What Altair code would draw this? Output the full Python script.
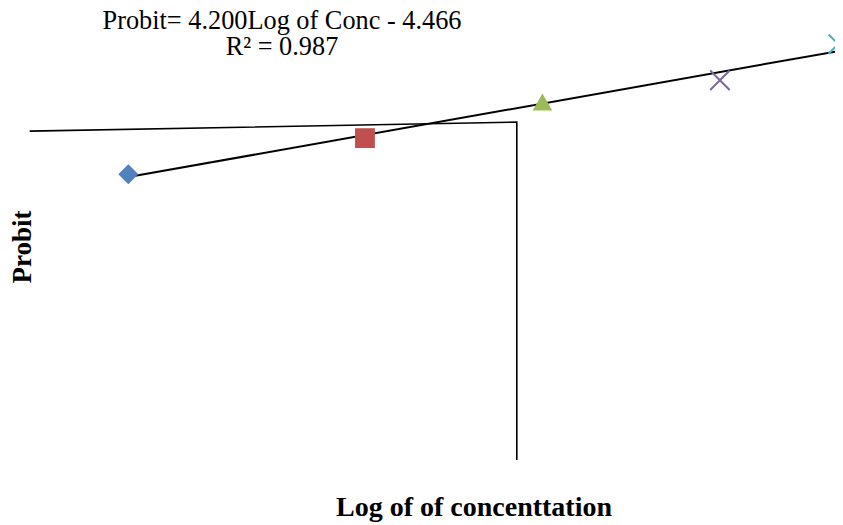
import altair as alt
import pandas as pd

# ---- data ----
log_conc = [1.70, 1.94, 2.12, 2.30, 2.42]
probit = [2.72, 3.60, 4.48, 5.01, 5.89]
marker = ["diamond", "square", "triangle", "x", "star"]

# the odd drawn frame lines (data coordinates)
frame_x = [1.600, 2.094, 2.094]
frame_y = [3.77, 3.99, -4.24]

equation_text = "Probit= 4.200Log of Conc - 4.466\nR\u00b2 = 0.987"
x_title = "Log of of concenttation"
y_title = "Probit"

# ---- styling ----
marker_colors = ["#4F81BD", "#C0504D", "#9BBB59", "#8064A2", "#4BACC6"]
x_path = "M-1,-1L1,1M-1,1L1,-1"
star_path = "M-1,-1L1,1M-1,1L1,-1M0,-1L0,1"
marker_shapes = ["diamond", "square", "triangle-up", x_path, star_path]
marker_sizes = [400, 370, 430, 380, 380]
FONT = "Liberation Serif"

pts = pd.DataFrame({"log_conc": log_conc, "probit": probit, "marker": marker})
frame = pd.DataFrame({"log_conc": frame_x, "probit": frame_y, "order": list(range(len(frame_x)))})

xs = alt.Scale(domain=[1.578, 2.4167], nice=False, zero=False)
ys = alt.Scale(domain=[-5.824, 6.77], nice=False, zero=False)
X = alt.X("log_conc:Q", scale=xs, axis=None)
Y = alt.Y("probit:Q", scale=ys, axis=None)

shape_enc = alt.Shape("marker:N", scale=alt.Scale(domain=marker, range=marker_shapes), legend=None)
color_enc = alt.Color("marker:N", scale=alt.Scale(domain=marker, range=marker_colors), legend=None)
size_enc = alt.Size("marker:N", scale=alt.Scale(domain=marker, range=marker_sizes), legend=None)

frame_layer = alt.Chart(frame).mark_line(color="black", strokeWidth=1.6).encode(
    x=X, y=Y, order="order:Q"
)

trend_layer = alt.Chart(pts).transform_regression("log_conc", "probit").mark_line(
    color="black", strokeWidth=2
).encode(x=X, y=Y)

filled_layer = alt.Chart(pts).transform_filter(
    alt.FieldOneOfPredicate(field="marker", oneOf=["diamond", "square", "triangle"])
).mark_point(filled=True, opacity=1).encode(x=X, y=Y, shape=shape_enc, color=color_enc, size=size_enc)

stroked_layer = alt.Chart(pts).transform_filter(
    alt.FieldOneOfPredicate(field="marker", oneOf=["x", "star"])
).mark_point(filled=False, opacity=1, strokeWidth=2).encode(
    x=X, y=Y, shape=shape_enc, color=color_enc, size=size_enc
)

eq_layer = alt.Chart(pd.DataFrame({"t": [equation_text]})).mark_text(
    font=FONT, fontSize=26.3, align="center", baseline="alphabetic", lineBreak="\n", lineHeight=26, color="black"
).encode(text="t:N", x=alt.value(274), y=alt.value(21))

xt_layer = alt.Chart(pd.DataFrame({"t": [x_title]})).mark_text(
    font=FONT, fontSize=28, fontWeight="bold", align="center", baseline="alphabetic", color="black"
).encode(text="t:N", x=alt.value(466), y=alt.value(508))

yt_layer = alt.Chart(pd.DataFrame({"t": [y_title]})).mark_text(
    font=FONT, fontSize=27, fontWeight="bold", align="center", baseline="alphabetic", angle=270, color="black"
).encode(text="t:N", x=alt.value(23), y=alt.value(239))

chart = alt.layer(
    frame_layer, trend_layer, filled_layer, stroked_layer, eq_layer, xt_layer, yt_layer
).properties(
    width=827, height=517, padding=0, autosize=alt.AutoSizeParams(type="none")
).configure_view(stroke=None)

chart.save("out.html", embed_options={"renderer": "svg", "actions": False})
